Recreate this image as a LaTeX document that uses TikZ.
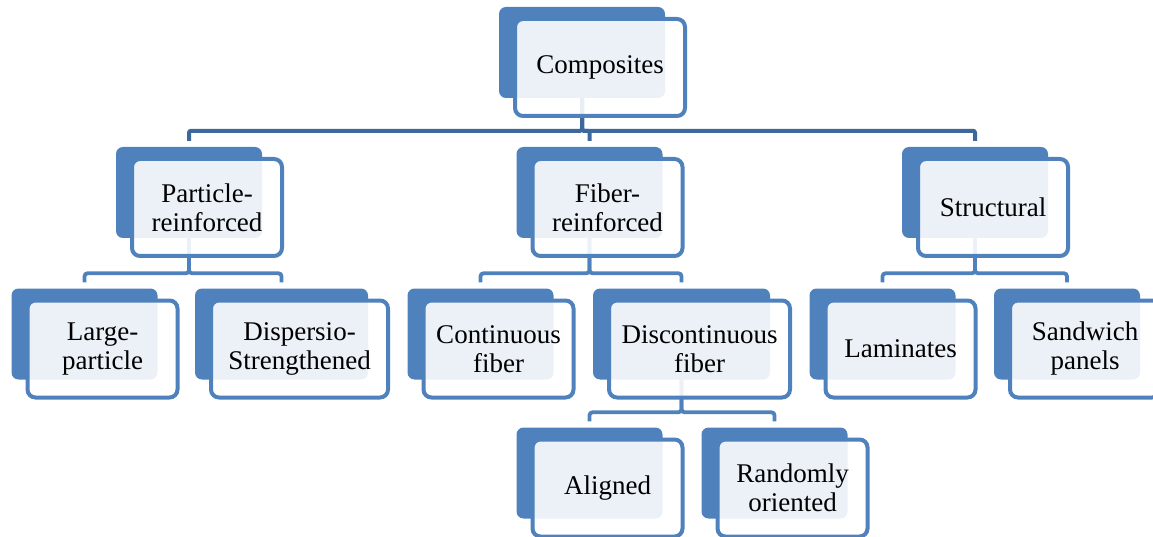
\documentclass[tikz,border=0pt]{standalone}
\usepackage{fontspec}
\setmainfont{Liberation Serif}
\newfontfamily\boxfont{Liberation Serif}
\usetikzlibrary{positioning}
\definecolor{boxblue}{RGB}{79,129,189}
\definecolor{linkblue}{RGB}{61,104,156}

\begin{document}
\begin{tikzpicture}[x=1pt, y=-1pt, on grid, font=\boxfont\fontsize{27}{29}\selectfont,
back/.style ={fill=boxblue, rounded corners=7pt, minimum width=146pt, minimum height=91pt, inner sep=0pt},
front/.style ={draw=boxblue, line width=4pt, fill=white, fill opacity=0.89, text opacity=1, text=black,
  rounded corners=8pt, minimum width=150pt, minimum height=97pt, align=center, inner sep=0pt},
link/.style ={draw=boxblue, line width=3.8pt, rounded corners=3pt},
toplink/.style ={draw=linkblue, line width=4pt, rounded corners=2pt}]
\useasboundingbox (0,0) rectangle (1153,537);

% back plates
\node[back, minimum width=166pt] (comp-b) at (582,52.5) {};
\node[back] (part-b) at (189,192.5) {};
\node[back] (fib-b) at (589.5,192.5) {};
\node[back] (str-b) at (975,192.5) {};
\node[back] (large-b) at (84.5,334) {};
\node[back, minimum width=173pt] (disp-b) at (281.5,334) {};
\node[back] (cont-b) at (480.5,334) {};
\node[back, minimum width=177pt] (disc-b) at (681.5,334) {};
\node[back] (lam-b) at (882.5,334) {};
\node[back] (sand-b) at (1067,334) {};
\node[back] (align-b) at (589.5,473) {};
\node[back] (rand-b) at (774.5,473) {};

% connectors
\draw[toplink] (comp-b.south) |- ([yshift=16pt]part-b.north) -- ([yshift=6pt]part-b.north);
\draw[toplink] (comp-b.south) |- ([yshift=16pt]fib-b.north) -- ([yshift=6pt]fib-b.north);
\draw[toplink] (comp-b.south) |- ([yshift=16pt]str-b.north) -- ([yshift=6pt]str-b.north);
\draw[link] (part-b.south) |- ([yshift=15pt]large-b.north) -- ([yshift=6pt]large-b.north);
\draw[link] (part-b.south) |- ([yshift=15pt]disp-b.north) -- ([yshift=6pt]disp-b.north);
\draw[link] (fib-b.south) |- ([yshift=15pt]cont-b.north) -- ([yshift=6pt]cont-b.north);
\draw[link] (fib-b.south) |- ([yshift=15pt]disc-b.north) -- ([yshift=6pt]disc-b.north);
\draw[link] (str-b.south) |- ([yshift=15pt]lam-b.north) -- ([yshift=6pt]lam-b.north);
\draw[link] (str-b.south) |- ([yshift=15pt]sand-b.north) -- ([yshift=6pt]sand-b.north);
\draw[link] (disc-b.south) |- ([yshift=15pt]align-b.north) -- ([yshift=6pt]align-b.north);
\draw[link] (disc-b.south) |- ([yshift=15pt]rand-b.north) -- ([yshift=6pt]rand-b.north);

% front boxes
\node[front, minimum width=170pt] (comp) [below right = 15pt and 18pt of comp-b] {Composites};
\node[front] (part) [below right = 15pt and 18pt of part-b] {Particle-\\reinforced};
\node[front] (fib) [below right = 15pt and 18pt of fib-b] {Fiber-\\reinforced};
\node[front] (str) [below right = 15pt and 18pt of str-b] {Structural};
\node[front] (large) [below right = 15pt and 18pt of large-b] {Large-\\particle};
\node[front, minimum width=177pt] (disp) [below right = 15pt and 18pt of disp-b] {Dispersio-\\Strengthened};
\node[front] (cont) [below right = 15pt and 18pt of cont-b] {Continuous\\fiber};
\node[front, minimum width=181pt] (disc) [below right = 15pt and 18pt of disc-b] {Discontinuous\\fiber};
\node[front] (lam) [below right = 15pt and 18pt of lam-b] {Laminates};
\node[front] (sand) [below right = 15pt and 18pt of sand-b] {Sandwich\\panels};
\node[front] (align) [below right = 15pt and 18pt of align-b] {Aligned};
\node[front] (rand) [below right = 15pt and 18pt of rand-b] {Randomly\\oriented};
\end{tikzpicture}
\end{document}
